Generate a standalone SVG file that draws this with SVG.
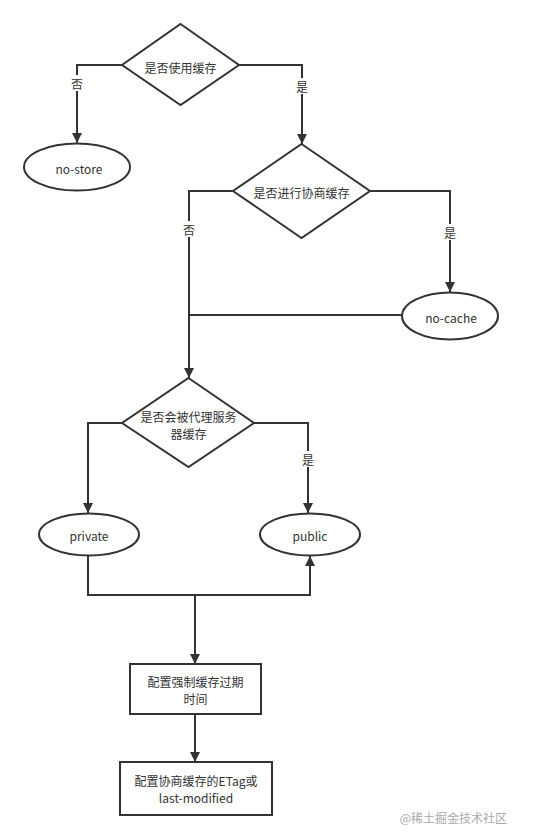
<svg xmlns="http://www.w3.org/2000/svg" width="535" height="840" viewBox="0 0 535 840">
<style>
.s{fill:#fff;stroke:#333;stroke-width:2}
.c{fill:none;stroke:#333;stroke-width:2}
text{font-family:"Noto Sans CJK SC","Noto Sans",sans-serif;font-size:12px;fill:#333;text-anchor:middle;dominant-baseline:central}
.wm{font-size:12px;fill:#aaa;text-anchor:end}
</style>
<defs>
<marker id="a" viewBox="0 0 10 10" refX="10" refY="5" markerWidth="10" markerHeight="14" markerUnits="userSpaceOnUse" orient="auto">
<path d="M0,0L10,5L0,10z" fill="#333"/>
</marker>
</defs>
<rect width="535" height="840" fill="#fff"/>
<g id="connectors">
<path class="c" d="M122,65H77V143" marker-end="url(#a)"/>
<path class="c" d="M239,65H302V144" marker-end="url(#a)"/>
<path class="c" d="M233,191H189V378" marker-end="url(#a)"/>
<path class="c" d="M370,191H450V292" marker-end="url(#a)"/>
<path class="c" d="M402,315H189"/>
<path class="c" d="M122,423H88V513" marker-end="url(#a)"/>
<path class="c" d="M254,423H308V513" marker-end="url(#a)"/>
<path class="c" d="M88,556V595H310V556" marker-end="url(#a)"/>
<path class="c" d="M195,595V664" marker-end="url(#a)"/>
<path class="c" d="M195,714V762" marker-end="url(#a)"/>
<rect x="70" y="75" width="14" height="16" fill="#fff"/><text x="77" y="83">否</text>
<rect x="295" y="78" width="14" height="16" fill="#fff"/><text x="302" y="86">是</text>
<rect x="182" y="221" width="14" height="16" fill="#fff"/><text x="189" y="229">否</text>
<rect x="443" y="224" width="14" height="16" fill="#fff"/><text x="450" y="232">是</text>
<rect x="301" y="451" width="14" height="16" fill="#fff"/><text x="308" y="459">是</text>
</g>
<g id="d1"><path class="s" d="M180.5,24L239,65L180.5,105L122,65z"/><text x="180.5" y="67">是否使用缓存</text></g>
<g id="nostore"><ellipse class="s" cx="77" cy="167" rx="53" ry="23.5"/><text x="79" y="168">no-store</text></g>
<g id="d2"><path class="s" d="M301.5,144L370,191L301.5,238L233,191z"/><text x="301.5" y="192">是否进行协商缓存</text></g>
<g id="nocache"><ellipse class="s" cx="450" cy="316" rx="48" ry="23.5"/><text x="451" y="317">no-cache</text></g>
<g id="d3"><path class="s" d="M188.5,378L254,423L188.5,467L122,423z"/><text x="188.5" y="416">是否会被代理服务</text><text x="188.5" y="433">器缓存</text></g>
<g id="private"><ellipse class="s" cx="89" cy="534.5" rx="50" ry="21"/><text x="89" y="535">private</text></g>
<g id="public"><ellipse class="s" cx="310" cy="534.5" rx="50" ry="21"/><text x="310" y="535">public</text></g>
<g id="box1"><rect class="s" x="130" y="664" width="131" height="50"/><text x="195.5" y="681">配置强制缓存过期</text><text x="195.5" y="698">时间</text></g>
<g id="box2"><rect class="s" x="120" y="762" width="152" height="53"/><text x="196" y="780">配置协商缓存的ETag或</text><text x="196" y="797">last-modified</text></g>
<text class="wm" x="507" y="817">@稀土掘金技术社区</text>
</svg>
